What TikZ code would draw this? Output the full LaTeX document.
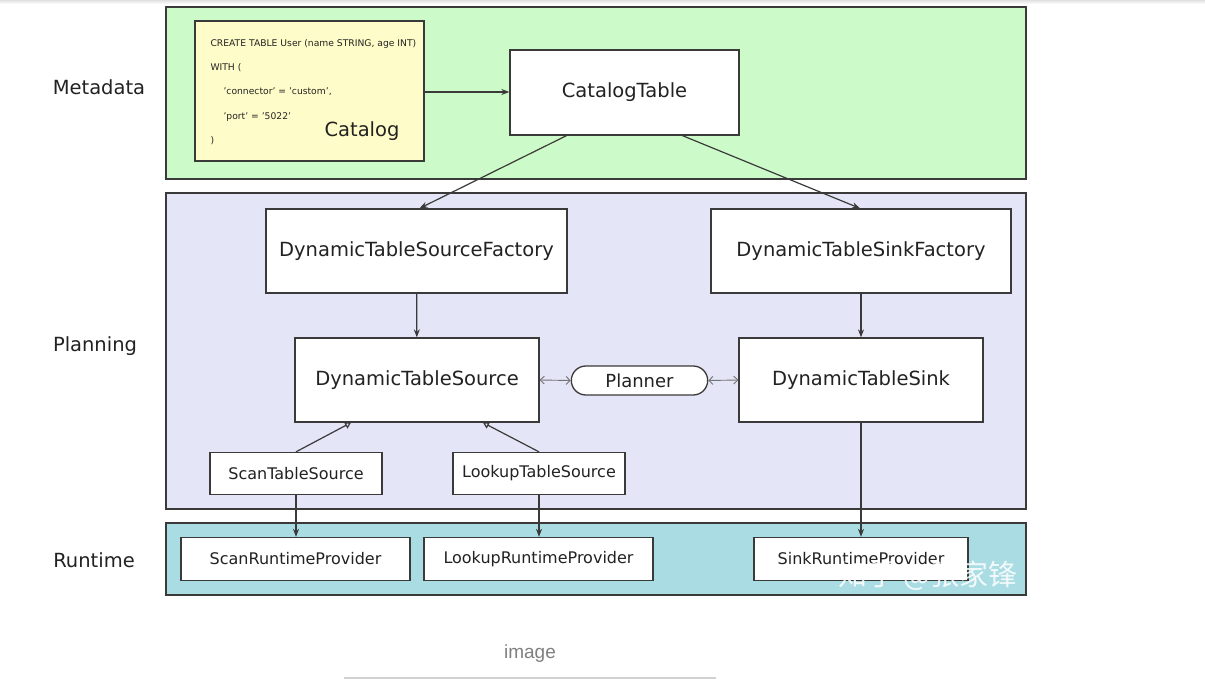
\documentclass[tikz,border=0pt]{standalone}
\usepackage{fontspec}
\setmainfont{DejaVu Sans}
\newfontfamily\cjk{Noto Sans CJK SC}
\newfontfamily\capfont{Liberation Sans}
\usetikzlibrary{arrows.meta,shapes.misc}
\definecolor{bordc}{HTML}{3A3A3A}
\definecolor{txtc}{HTML}{222222}
\definecolor{metafill}{HTML}{CCFBC9}
\definecolor{planfill}{HTML}{E4E5F7}
\definecolor{runfill}{HTML}{A9DCE3}
\definecolor{catfill}{HTML}{FEFCC8}
\tikzset{
  band/.style={draw=bordc, line width=1.3pt},
  box/.style={draw=bordc, line width=1.3pt, fill=white},
  bigtxt/.style={text=txtc, font=\fontsize{19.5}{23}\selectfont},
  smalltxt/.style={text=txtc, font=\fontsize{16}{19}\selectfont},
  sqltxt/.style={text=txtc, font=\fontsize{9.2}{11}\selectfont, anchor=west},
  flow/.style={draw=bordc, line width=1.2pt, -{Stealth[length=8pt,width=6pt]}},
  inherit/.style={draw=bordc, line width=1.2pt, -{Triangle[open,length=6pt,width=7pt]}},
  bidir/.style={draw=gray!90!black, line width=0.9pt, {Straight Barb[length=4pt,width=8pt]}-{Straight Barb[length=4pt,width=8pt]}},
}
\begin{document}
\begin{tikzpicture}[x=1pt,y=-1pt]
\useasboundingbox (0,0) rectangle (1205,696);
\fill[white] (0,0) rectangle (1205,696);
\fill[top color=black!12, bottom color=white] (0,0) rectangle (1205,4);

% bands
\draw[band, fill=metafill] (166,7) rectangle (1026,179);
\draw[band, fill=planfill] (166,193) rectangle (1026,509);
\draw[band, fill=runfill] (166,523) rectangle (1026,595);

\node[bigtxt] (lmeta) at (99,87) {Metadata};
\node[bigtxt] (lplan) at (95,346) {Planning};
\node[bigtxt] (lrun) at (94,560) {Runtime};

% catalog
\draw[band, fill=catfill] (195,21) rectangle (424,161);
\coordinate (catR) at (424,92);
\node[sqltxt] (s1) at (207,44) {CREATE TABLE User (name STRING, age INT)};
\node[sqltxt] (s2) at (207,68) {WITH (};
\node[sqltxt] (s3) at (220,92) {'connector' = 'custom',};
\node[sqltxt] (s4) at (220,117) {'port' = '5022'};
\node[sqltxt] (s5) at (207,141) {)};
\node[bigtxt] (catalog) at (362,131) {Catalog};

\node[box, bigtxt, minimum width=229pt, minimum height=85pt] (ct) at (624.5,92.5) {CatalogTable};

\node[box, bigtxt, minimum width=301pt, minimum height=84pt] (dsf) at (416.5,251) {DynamicTableSourceFactory};
\node[box, bigtxt, minimum width=300pt, minimum height=84pt] (dkf) at (861,251) {DynamicTableSinkFactory};

\node[box, bigtxt, minimum width=244pt, minimum height=84pt] (ds) at (417,380) {DynamicTableSource};
\node[box, bigtxt, minimum width=244pt, minimum height=84pt] (dk) at (861,380) {DynamicTableSink};

\node[draw=bordc, line width=1.3pt, fill=white, rounded rectangle, bigtxt, font=\fontsize{18}{21}\selectfont, minimum width=143pt, minimum height=29pt, inner ysep=2pt] (pl) at (639.5,380.5) {Planner};

\node[box, smalltxt, minimum width=172pt, minimum height=42pt] (sts) at (296,473.5) {ScanTableSource};
\node[box, smalltxt, minimum width=172pt, minimum height=42pt] (lts) at (539,473.5) {LookupTableSource};

\node[box, smalltxt, minimum width=229pt, minimum height=43pt] (srp) at (295.5,559) {ScanRuntimeProvider};
\node[box, smalltxt, minimum width=229pt, minimum height=43pt] (lrp) at (538.5,559) {LookupRuntimeProvider};
\node[box, smalltxt, minimum width=214pt, minimum height=43pt] (krp) at (861,559) {SinkRuntimeProvider};

% connectors
\draw[flow] (catR) -- (ct.west |- catR);
\draw[flow] ([xshift=-58pt]ct.south) -- ([xshift=3pt]dsf.north);
\draw[flow] ([xshift=58pt]ct.south) -- ([xshift=-1pt]dkf.north);
\draw[flow] (dsf) -- (ds);
\draw[flow] (dkf) -- (dk);
\draw[bidir] (ds.east) -- (pl.west);
\draw[bidir] (pl.east) -- (dk.west);
\draw[inherit] (sts.north) -- ([xshift=-66pt]ds.south);
\draw[inherit] (lts.north) -- ([xshift=66pt]ds.south);
\draw[flow] (sts.south) -- (srp.north -| sts.south);
\draw[flow] (lts.south) -- (lrp.north -| lts.south);
\draw[flow] (dk.south) -- (krp.north);

% watermark
\node[text=white, opacity=0.85, font=\cjk\fontsize{29}{32}\selectfont] (wm) at (928,576) {知乎 @张家锋};

% caption
\node[text=black!50, font=\capfont\fontsize{19}{22}\selectfont] (cap) at (530,654) {image};
\draw[black!18, line width=2pt] (344,678) -- (716,678);
\end{tikzpicture}
\end{document}
